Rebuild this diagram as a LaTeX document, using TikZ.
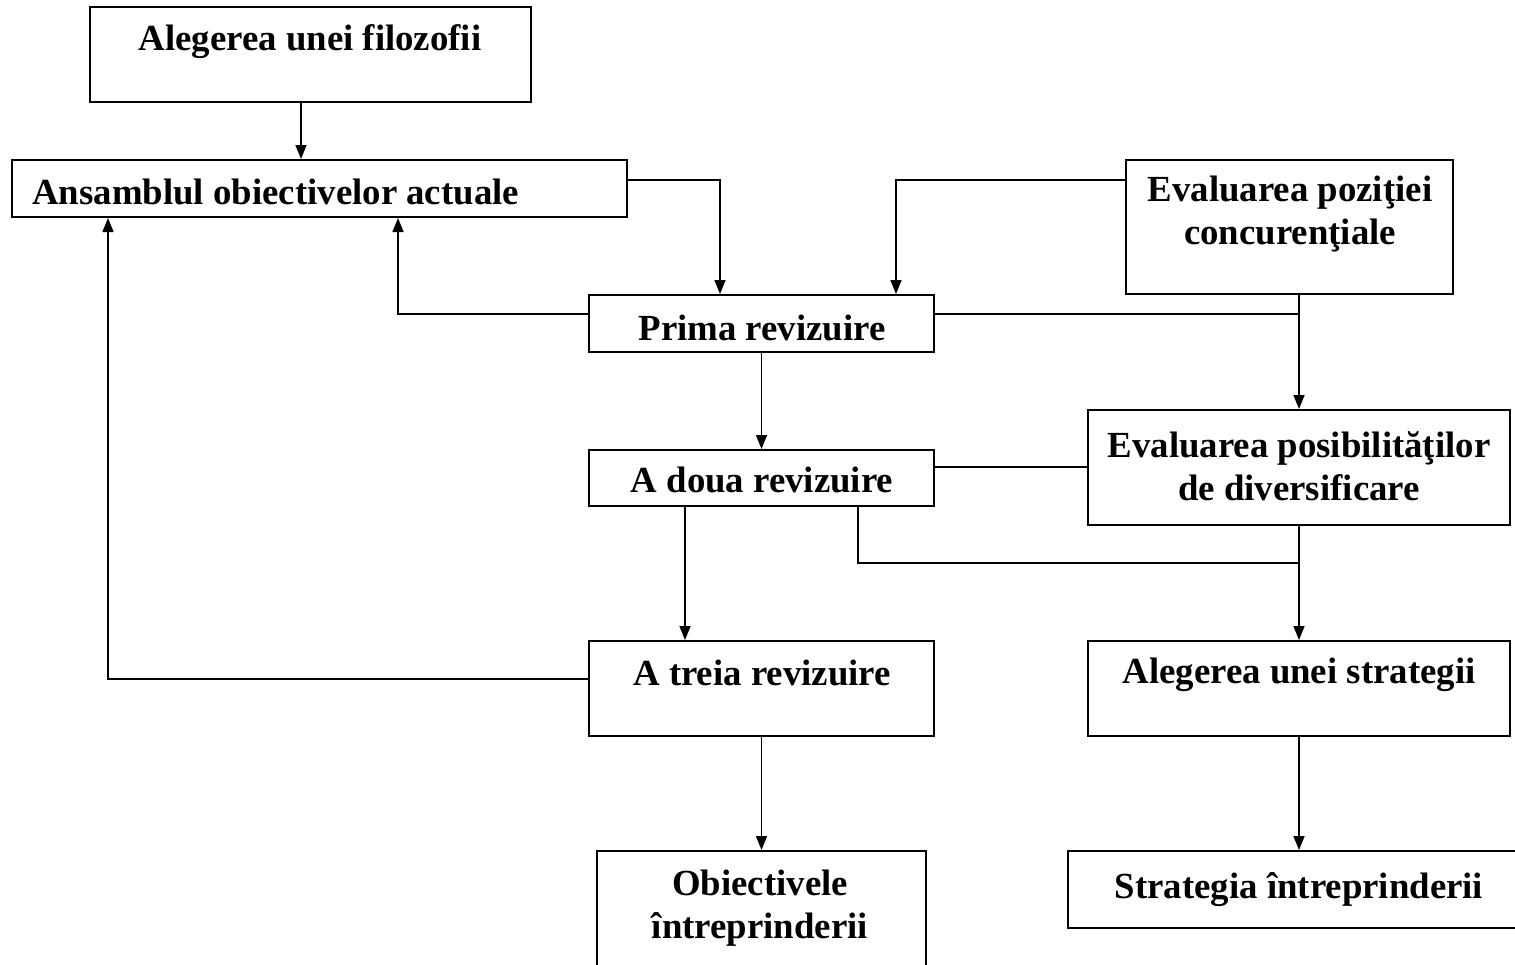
\documentclass[tikz,border=0pt]{standalone}
\usepackage{fontspec}
\setmainfont{Liberation Serif}
\usepackage{tikz}
\usetikzlibrary{arrows.meta,positioning,calc,fit}
\tikzset{
  box/.style={draw=black,line width=1pt,inner sep=0pt,fill=none},
  lbl/.style={inner sep=0pt,font=\fontsize{18.4}{21.5}\selectfont\bfseries,align=center},
  link/.style={draw=black,line width=0.75pt},
  arrow/.style={link,-{Triangle[length=7pt,width=5.5pt]}}
}
\begin{document}
\begin{tikzpicture}[x=0.5pt,y=-0.5pt]
  \fill[white] (0,0) rectangle (1515,964);
  \useasboundingbox (0,0) rectangle (1515,964);
  % boxes
  \node[box,fit={(90,7)(531,102)}] (filo) {};
  \node[box,fit={(12,160)(627,217)}] (ans) {};
  \node[box,fit={(1126,160)(1453,294)}] (poz) {};
  \node[box,fit={(589,295)(934,352)}] (prima) {};
  \node[box,fit={(589,450)(934,506)}] (doua) {};
  \node[box,fit={(1088,410)(1510,525)}] (posib) {};
  \node[box,fit={(589,641)(934,736)}] (treia) {};
  \node[box,fit={(1088,641)(1510,736)}] (strat) {};
  \node[box,fit={(597,851)(926,1000)}] (obj) {};
  \node[box,fit={(1068,851)(1540,928)}] (stratint) {};
  % texts
  \node[lbl] (filo-t) at (310,42) {Alegerea unei filozofii};
  \node[lbl,anchor=west] (ans-t) at (32,192) {Ansamblul obiectivelor actuale};
  \node[lbl] (poz-t) at (1290,214) {Evaluarea poziţiei\\concurenţiale};
  \node[lbl] (prima-t) at (762,328) {Prima revizuire};
  \node[lbl] (doua-t) at (762,480) {A doua revizuire};
  \node[lbl] (posib-t) at (1299,466) {Evaluarea posibilităţilor\\de diversificare};
  \node[lbl] (treia-t) at (762,673) {A treia revizuire};
  \node[lbl] (strat-t) at (1299,675) {Alegerea unei strategii};
  \node[lbl] (obj-t) at (760,908) {Obiectivele\\întreprinderii};
  \node[lbl] (stratint-t) at (1299,890) {Strategia întreprinderii};
  % bends
  \coordinate (j0) at (301,0);
  \coordinate (j1) at (720,180);
  \coordinate (j2) at (896,180);
  \coordinate (j3) at (398,314);
  \coordinate (j4) at (1299,314);
  \coordinate (j5) at (858,563);
  \coordinate (j6) at (1299,563);
  \coordinate (j7) at (108,679);
  \coordinate (j8) at (685,0);
  \coordinate (j9) at (1000,467);
  % connectors
  \draw[arrow] (filo.south -| j0) -- (ans.north -| j0);
  \draw[arrow] (ans.east |- j1) -- (j1) -- (prima.north -| j1);
  \draw[arrow] (poz.west |- j2) -- (j2) -- (prima.north -| j2);
  \draw[arrow] (prima.west |- j3) -- (j3) -- (ans.south -| j3);
  \draw[arrow] (prima.south) -- (doua.north);
  \draw[link] (prima.east |- j4) -- (j4);
  \draw[arrow] (poz.south -| j4) -- (posib.north -| j4);
  \draw[link] (doua.east |- j9) -- (posib.west |- j9);
  \draw[arrow] (doua.south -| j8) -- (treia.north -| j8);
  \draw[link] (doua.south -| j5) -- (j5) -- (j6);
  \draw[arrow] (posib.south -| j6) -- (strat.north -| j6);
  \draw[arrow] (treia.west |- j7) -- (j7) -- (ans.south -| j7);
  \draw[arrow] (treia.south) -- (obj.north);
  \draw[arrow] (strat.south) -- (strat.south |- stratint.north);
\end{tikzpicture}
\end{document}
